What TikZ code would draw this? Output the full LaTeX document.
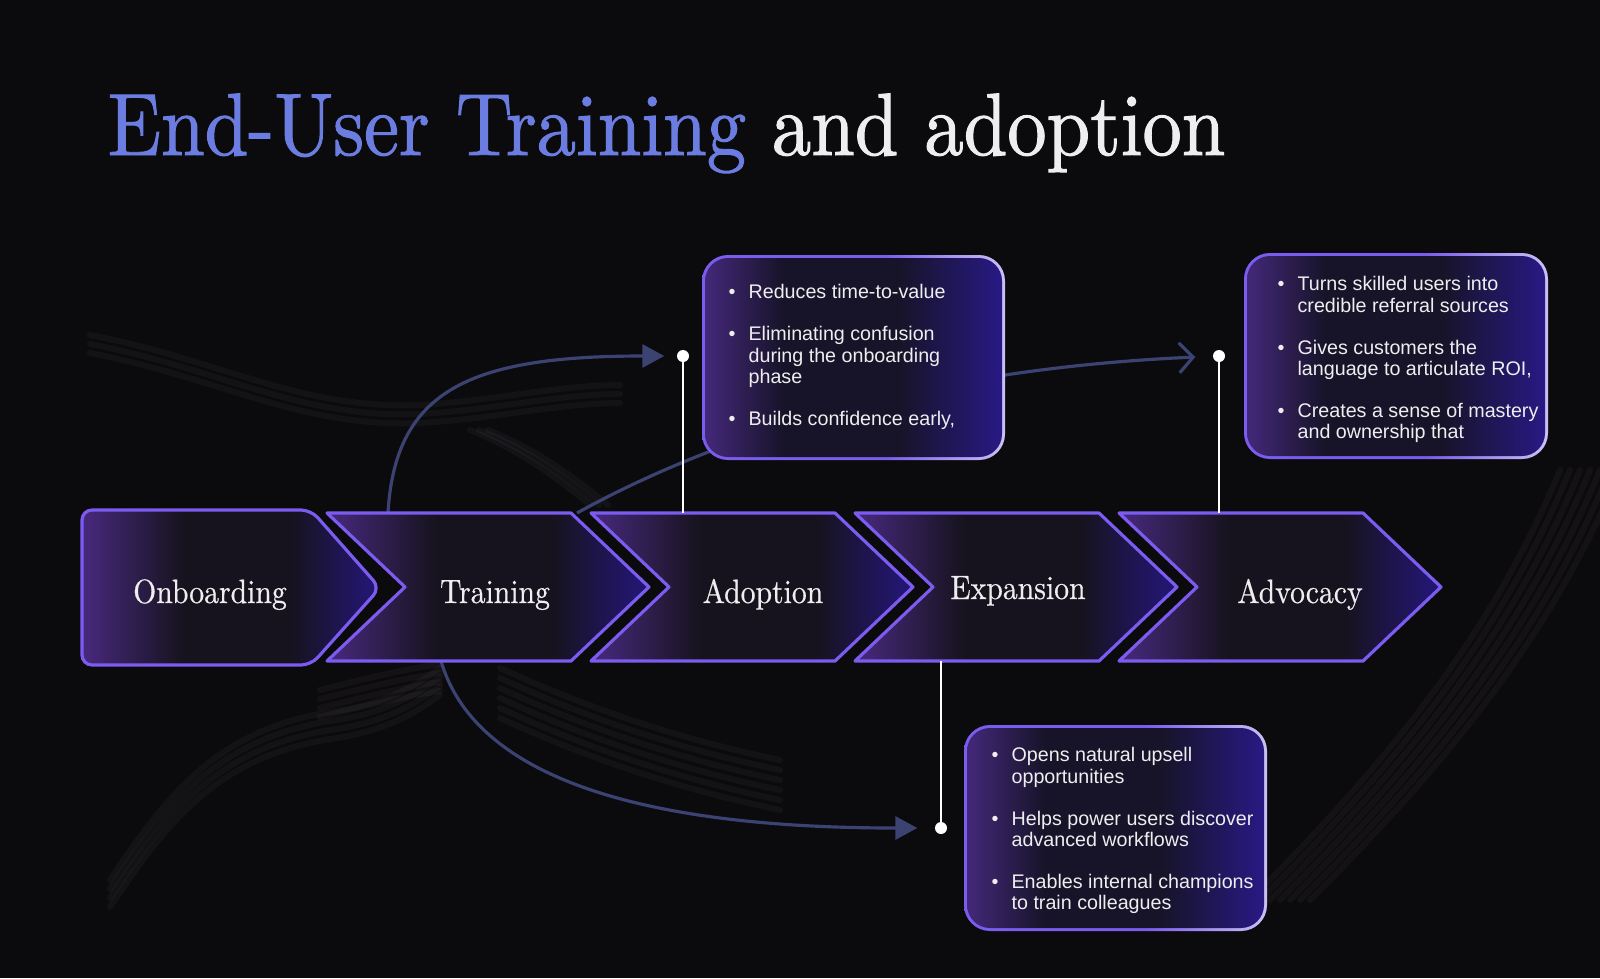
\documentclass[tikz,border=0pt]{standalone}
\usepackage{fontspec}
\usepackage{xcolor}
\usetikzlibrary{arrows.meta}
\newfontfamily\plexserif{lmroman10-regular.otf}[FakeStretch=0.88, FakeBold=0.5]
\newfontfamily\plextitle{lmroman10-regular.otf}[FakeStretch=0.885, FakeBold=1.1]
\newfontfamily\plexsans{Liberation Sans}
\definecolor{bgdark}{HTML}{0B0B0D}
\definecolor{titleblue}{HTML}{6C7DE1}
\definecolor{textwhite}{HTML}{EEEEEE}
\definecolor{stageline}{HTML}{7C5CF0}
\definecolor{stageL}{HTML}{48297F}
\definecolor{stageM}{HTML}{16131E}
\definecolor{stageR}{HTML}{23166F}
\definecolor{boxL}{HTML}{44287A}
\definecolor{boxM}{HTML}{17142A}
\definecolor{boxR}{HTML}{281984}
\definecolor{edgeL}{HTML}{7A5CEF}
\definecolor{edgeR}{HTML}{CBC0F4}
\definecolor{flowblue}{HTML}{3C4373}
\definecolor{streakgrey}{HTML}{9AA0B0}
\definecolor{streakrose}{HTML}{B08A90}
\pgfdeclarehorizontalshading{stagefill}{100bp}{color(0bp)=(stageL); color(25bp)=(stageL); color(42bp)=(stageM); color(60bp)=(stageM); color(73bp)=(stageR); color(100bp)=(stageR)}
\pgfdeclarehorizontalshading{boxfill}{100bp}{color(0bp)=(boxL); color(25bp)=(boxL); color(38bp)=(boxM); color(58bp)=(boxM); color(75bp)=(boxR); color(100bp)=(boxR)}
\pgfdeclarehorizontalshading{edgefill}{100bp}{color(0bp)=(edgeL); color(25bp)=(edgeL); color(55bp)=(edgeL); color(75bp)=(edgeR); color(100bp)=(edgeR)}
\begin{document}
\begin{tikzpicture}[x=0.01cm, y=-0.01cm,
  stage/.style={shade, shading=stagefill, draw=stageline, line width=0.9pt, line join=round},
  stagelabel/.style={anchor=base, inner sep=0pt, text=textwhite, font=\plexserif\fontsize{9.6}{11}\selectfont},
  bullets/.style={anchor=north west, inner sep=0pt, text=textwhite, font=\plexsans\fontsize{5.6}{6.1}\selectfont},
  dotmark/.style={circle, fill=white, inner sep=0pt, minimum size=0.12cm},
  stemline/.style={draw=white, line width=0.55pt},
  flowline/.style={draw=flowblue, line width=0.9pt},
  haze/.style={draw=#1, line width=0.06cm, opacity=0.06, line cap=round}]
\path[use as bounding box, fill=bgdark] (0,0) rectangle (1600,978);
%
% faint streaks of the backdrop
\foreach \s in {0,9,18}
  \draw[haze=streakgrey, yshift=-\s*0.01cm] (90,335) .. controls (220,360) and (300,410) .. (420,405) .. controls (500,400) and (560,385) .. (620,385);
\foreach \s in {0,9,18,27}
  \draw[haze=streakgrey, yshift=-\s*0.01cm] (110,880) .. controls (170,790) and (220,730) .. (330,712) .. controls (380,705) and (410,690) .. (440,668);
\foreach \s in {0,9,18,27}
  \draw[haze=streakrose, yshift=-\s*0.01cm] (320,690) .. controls (360,680) and (400,670) .. (440,664);
\foreach \s in {0,10,20,30,40,50}
  \draw[haze=streakgrey, yshift=-\s*0.01cm] (500,668) .. controls (570,700) and (660,735) .. (780,760);
\foreach \s in {0,9,18}
  \draw[haze=streakgrey, xshift=\s*0.01cm] (470,430) .. controls (520,450) and (560,480) .. (590,505);
\foreach \s in {0,10,20,30,40,50,60}
  \draw[haze=streakrose, xshift=\s*0.01cm] (1250,900) .. controls (1380,770) and (1490,640) .. (1560,470);
%
\coordinate (trainTop) at (388,513);
\coordinate (trainCorner) at (577,513);
\coordinate (trainFoot) at (441,661);
\coordinate (adoptFoot) at (683,513);
\coordinate (advoFoot) at (1219,513);
\coordinate (expFoot) at (941,661);
\node[dotmark] (adoptDot) at (683,356) {};
\node[dotmark] (advoDot) at (1219,356) {};
\node[dotmark] (expDot) at (941,828) {};
%
\draw[flowline, -{Triangle[length=0.22cm, width=0.23cm]}, shorten >=0.12cm] (trainTop) .. controls (395,390) and (470,356) .. (adoptDot);
\draw[flowline, -{Straight Barb[length=0.14cm, width=0.3cm]}, shorten >=0.17cm] (trainCorner) .. controls (700,445) and (900,370) .. (advoDot);
\draw[flowline, -{Triangle[length=0.22cm, width=0.23cm]}, shorten >=0.17cm] (trainFoot) .. controls (470,760) and (600,828) .. (expDot);
%
\path[stage, rounded corners=0.1cm] (200,510) -- (311,510) -- (380,588) -- (311,665) -- (82,665) -- (82,510) -- cycle;
\path[stage] (327,513) -- (571,513) -- (649,587) -- (571,661) -- (327,661) -- (405,587) -- cycle;
\path[stage] (591,513) -- (835,513) -- (913,587) -- (835,661) -- (591,661) -- (669,587) -- cycle;
\path[stage] (855,513) -- (1099,513) -- (1177,587) -- (1099,661) -- (855,661) -- (933,587) -- cycle;
\path[stage] (1119,513) -- (1363,513) -- (1441,587) -- (1363,661) -- (1119,661) -- (1197,587) -- cycle;
%
\node[stagelabel] (onbLabel) at (210,603) {Onboarding};
\node[stagelabel] (trainLabel) at (495,603) {Training};
\node[stagelabel] (adoptLabel) at (763,603) {Adoption};
\node[stagelabel] (expLabel) at (1018,599) {Expansion};
\node[stagelabel] (advoLabel) at (1300,603) {Advocacy};
%
\draw[stemline] (adoptFoot) -- (adoptDot.center);
\draw[stemline] (advoFoot) -- (advoDot.center);
\draw[stemline] (expFoot) -- (expDot.center);
%
\shade[shading=edgefill, rounded corners=0.26cm] (702,255) rectangle (1005,460);
\shade[shading=boxfill, rounded corners=0.23cm] (705,258) rectangle (1002,457);
\node[bullets] (adoptText) at (728,283) {\begin{tabular}{@{}l@{\hspace{3.7pt}}l@{}}
\textbullet & Reduces time-to-value\\[5.8pt]
\textbullet & Eliminating confusion\\
 & during the onboarding\\
 & phase\\[5.8pt]
\textbullet & Builds confidence early,
\end{tabular}};
%
\shade[shading=edgefill, rounded corners=0.26cm] (1244,253) rectangle (1548,459);
\shade[shading=boxfill, rounded corners=0.23cm] (1247,256) rectangle (1545,456);
\node[bullets] (advoText) at (1277,275) {\begin{tabular}{@{}l@{\hspace{3.7pt}}l@{}}
\textbullet & Turns skilled users into\\
 & credible referral sources\\[5.8pt]
\textbullet & Gives customers the\\
 & language to articulate ROI,\\[5.8pt]
\textbullet & Creates a sense of mastery\\
 & and ownership that
\end{tabular}};
%
\shade[shading=edgefill, rounded corners=0.26cm] (964,725) rectangle (1267,931);
\shade[shading=boxfill, rounded corners=0.23cm] (967,728) rectangle (1264,928);
\node[bullets] (expText) at (991,746) {\begin{tabular}{@{}l@{\hspace{3.7pt}}l@{}}
\textbullet & Opens natural upsell\\
 & opportunities\\[5.8pt]
\textbullet & Helps power users discover\\
 & advanced workflows\\[5.8pt]
\textbullet & Enables internal champions\\
 & to train colleagues
\end{tabular}};
%
\node[anchor=base west, inner sep=0pt, text=textwhite, font=\plextitle\fontsize{25.2}{30}\selectfont] (title) at (107,155) {\textcolor{titleblue}{End-User Training} and adoption};
\end{tikzpicture}
\end{document}
